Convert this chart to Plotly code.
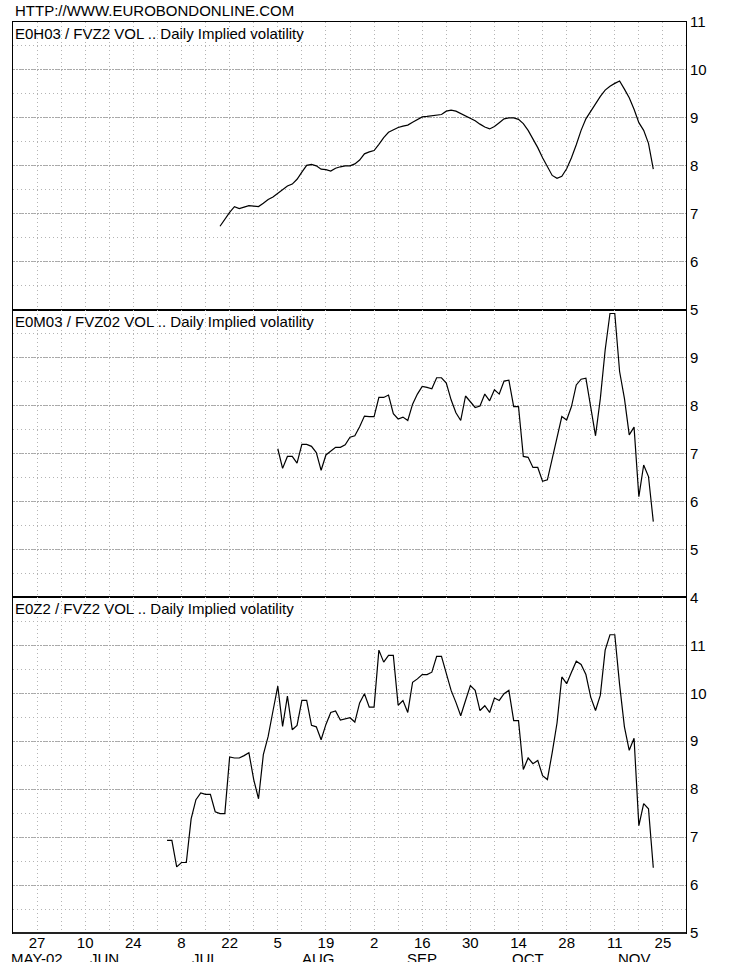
import pandas as pd
import plotly.graph_objects as go
from plotly.subplots import make_subplots

# ---------------- data ----------------
header_text = "HTTP://WWW.EUROBONDONLINE.COM"
panel_titles = [
    "E0H03 / FVZ2 VOL .. Daily Implied volatility",
    "E0M03 / FVZ02 VOL .. Daily Implied volatility",
    "E0Z2 / FVZ2 VOL .. Daily Implied volatility",
]

# E0H03 daily implied volatility, business days from 2002-07-18
h03_start = "2002-07-18"
h03_vol = [
    6.74, 6.89, 7.03, 7.15, 7.11, 7.14, 7.17, 7.16, 7.15, 7.22, 7.30, 7.35,
    7.43, 7.51, 7.58, 7.62, 7.72, 7.87, 8.01, 8.03, 8.00, 7.93,
    7.92, 7.89, 7.95, 7.98, 8.00, 8.00, 8.04, 8.12, 8.25, 8.29,
    8.32, 8.45, 8.59, 8.70, 8.75, 8.80, 8.83, 8.85, 8.91, 8.97,
    9.02, 9.03, 9.04, 9.06, 9.07, 9.14, 9.16, 9.14, 9.09, 9.05,
    9.00, 8.94, 8.87, 8.81, 8.77, 8.82, 8.90, 8.98, 9.00, 9.00,
    8.97, 8.88, 8.74, 8.57, 8.38, 8.17, 7.97, 7.80, 7.74, 7.78,
    7.94, 8.17, 8.44, 8.74, 8.98, 9.14, 9.30, 9.45, 9.58, 9.66,
    9.72, 9.77, 9.60, 9.42, 9.18, 8.90, 8.74, 8.47, 7.93,
]

# E0M03 daily implied volatility, business days from 2002-08-05
m03_start = "2002-08-05"
m03_vol = [
    7.10, 6.69, 6.94, 6.94, 6.80, 7.19, 7.19, 7.15, 7.02, 6.65,
    6.97, 7.06, 7.13, 7.13, 7.18, 7.34, 7.37, 7.56, 7.78, 7.77,
    7.77, 8.17, 8.17, 8.22, 7.83, 7.72, 7.76, 7.69, 8.03, 8.24,
    8.40, 8.38, 8.35, 8.58, 8.58, 8.47, 8.12, 7.85, 7.69, 8.20,
    8.08, 7.96, 7.99, 8.24, 8.10, 8.33, 8.24, 8.51, 8.53, 7.98,
    7.98, 6.94, 6.92, 6.71, 6.71, 6.42, 6.45, 6.87, 7.32, 7.77,
    7.70, 7.98, 8.43, 8.55, 8.57, 7.94, 7.37, 8.15, 9.16, 9.92,
    9.92, 8.71, 8.15, 7.39, 7.55, 6.10, 6.76, 6.52, 5.58,
]

# E0Z2 daily implied volatility, business days from 2002-07-03
z2_start = "2002-07-03"
z2_vol = [
    6.93, 6.93, 6.38, 6.47, 6.47, 7.38, 7.78, 7.92, 7.89, 7.89,
    7.53, 7.49, 7.49, 8.67, 8.65, 8.65, 8.70, 8.76, 8.20, 7.80,
    8.72, 9.10, 9.63, 10.15, 9.31, 9.94, 9.24, 9.33, 9.85, 9.85,
    9.33, 9.30, 9.03, 9.35, 9.60, 9.63, 9.44, 9.47, 9.49, 9.40,
    9.80, 9.99, 9.71, 9.71, 10.90, 10.65, 10.79, 10.79, 9.75, 9.85,
    9.60, 10.23, 10.30, 10.39, 10.39, 10.44, 10.77, 10.77, 10.42, 10.06,
    9.81, 9.53, 9.85, 10.16, 10.06, 9.64, 9.74, 9.60, 9.90, 9.85,
    9.99, 10.06, 9.43, 9.43, 8.41, 8.65, 8.53, 8.60, 8.28, 8.20,
    8.76, 9.38, 10.34, 10.20, 10.44, 10.67, 10.60, 10.39, 9.92, 9.64,
    9.96, 10.90, 11.22, 11.22, 10.18, 9.30, 8.81, 9.06, 7.24, 7.70,
    7.59, 6.36,
]

# axis labels
week_tick_start, week_tick_end = "2002-05-27", "2002-11-25"
day_tick_every = 2
month_labels = ["MAY-02", "JUN", "JUL", "AUG", "SEP", "OCT", "NOV"]
month_label_dates = ["2002-05-27", "2002-06-14", "2002-07-15", "2002-08-15 12:00",
                     "2002-09-16", "2002-10-16", "2002-11-15"]
y_ranges = [[5, 11], [4, 10], [5, 12]]
y_tickvals = [list(range(5, 12)), list(range(4, 10)), list(range(5, 12))]
x_range = ["2002-05-20", "2002-11-29 19:00"]

# ---------------- figure ----------------
FONT = "Liberation Sans, Arial, sans-serif"
GRID_MAJ = "#a8a8a8"
GRID_MIN = "#b4b4b4"

series = [(h03_start, h03_vol), (m03_start, m03_vol), (z2_start, z2_vol)]
row_heights = [r[1] - r[0] for r in y_ranges]

fig = make_subplots(rows=3, cols=1, shared_xaxes=True, vertical_spacing=0,
                    row_heights=row_heights)

for i, (start, vals) in enumerate(series):
    dates = pd.bdate_range(start, periods=len(vals))
    fig.add_trace(go.Scatter(x=dates, y=vals, mode="lines",
                             line=dict(color="black", width=1.2),
                             showlegend=False, hoverinfo="skip"),
                  row=i + 1, col=1)

weeks = pd.date_range(week_tick_start, week_tick_end, freq="W-MON")
week_text = [str(d.day) if k % day_tick_every == 0 else "" for k, d in enumerate(weeks)]

fig.update_xaxes(
    type="date",
    range=x_range,
    rangebreaks=[dict(bounds=["sat", "mon"])],
    tickmode="array", tickvals=list(weeks), ticktext=week_text,
    ticks="", showgrid=True, gridcolor=GRID_MIN, griddash="1px,3px", gridwidth=1,
    showline=True, mirror=True, linecolor="black", linewidth=1,
    zeroline=False, automargin=False, ticklabelstandoff=-4,
    tickfont=dict(family=FONT, size=15, color="black"),
)

for i in range(3):
    fig.update_yaxes(
        row=i + 1, col=1,
        range=y_ranges[i], side="right",
        tickmode="array", tickvals=y_tickvals[i],
        ticks="", showgrid=True, gridcolor=GRID_MAJ, griddash="2px,1px", gridwidth=1,
        minor=dict(tickmode="linear", tick0=0, dtick=0.5, showgrid=True,
                   gridcolor=GRID_MIN, griddash="1px,3px", gridwidth=1),
        showline=True, mirror=True, linecolor="black", linewidth=1,
        zeroline=False, automargin=False,
        tickfont=dict(family=FONT, size=15, color="black"),
    )

annotations = []
# header
annotations.append(dict(text=header_text, xref="paper", yref="paper", x=0, y=1,
                        xanchor="left", yanchor="middle", xshift=0, yshift=12,
                        showarrow=False, font=dict(family=FONT, size=15, color="black")))
# panel titles
tot = sum(row_heights)
tops = [1.0, 1.0 - row_heights[0] / tot, 1.0 - (row_heights[0] + row_heights[1]) / tot]
for t, top in zip(panel_titles, tops):
    annotations.append(dict(text=t, xref="paper", yref="paper", x=0, y=top,
                            xanchor="left", yanchor="top", xshift=0, yshift=-1,
                            showarrow=False, font=dict(family=FONT, size=15, color="black")))
# month labels under the day numbers
for lab, d in zip(month_labels, month_label_dates):
    annotations.append(dict(text=lab, xref="x3", yref="paper", x=d, y=0,
                            xanchor="center", yanchor="top", yshift=-15,
                            showarrow=False, font=dict(family=FONT, size=15, color="black")))

fig.update_layout(
    width=736, height=962,
    margin=dict(l=13, r=50, t=22, b=29, autoexpand=False),
    paper_bgcolor="white", plot_bgcolor="white",
    annotations=annotations,
    shapes=[dict(type="line", xref="paper", yref="paper", x0=0, x1=1, y0=0, y1=0,
                 line=dict(color="#222222", width=2))],
    font=dict(family=FONT, size=15, color="black"),
)

# put the figure flush with the page corner (remove the default body margin)
fig.write_html("out.html",
               config={"displayModeBar": False},
               post_script="document.body.style.margin='0px';document.body.style.overflow='hidden';")
